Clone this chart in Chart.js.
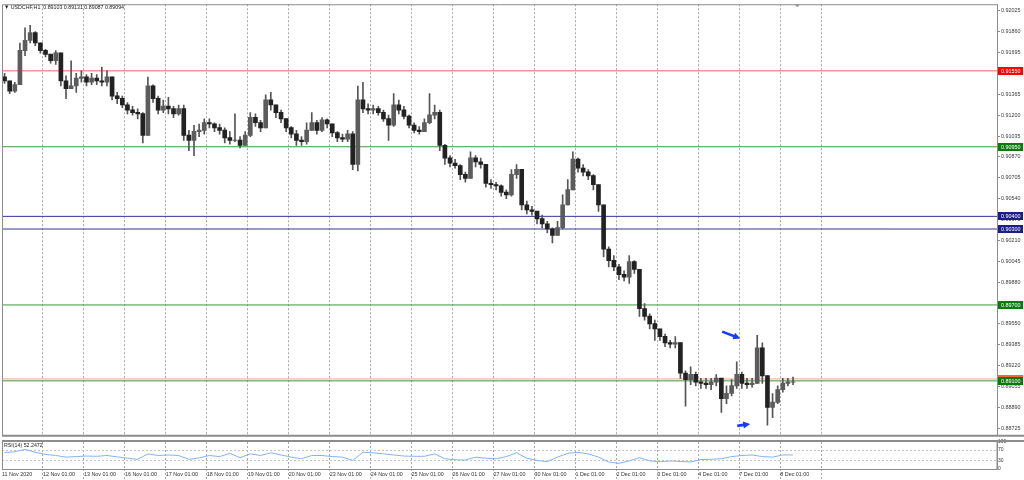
<!DOCTYPE html>
<html>
<head>
<meta charset="utf-8">
<script src="https://cdn.jsdelivr.net/npm/chart.js@4.4.0/dist/chart.umd.min.js"></script>
<style>
  body { margin: 0; background: #fff; }
  #wrap { position: relative; width: 1024px; height: 480px; overflow: hidden; background: #fff; }
  #mainBox { position: absolute; left: 0; top: 0; width: 1024px; height: 440px; }
  #rsiBox { position: absolute; left: 0; top: 437px; width: 1024px; height: 43px; }
  canvas { display: block; }
  .cap { position: absolute; font: 6px "Liberation Sans", Arial, sans-serif; color: #222; white-space: pre; transform: scaleX(0.88); transform-origin: left top; }
</style>
</head>
<body>
<div id="wrap">
  <div id="mainBox"><canvas id="mainChart" width="1024" height="440"></canvas></div>
  <div id="rsiBox"><canvas id="rsiChart" width="1024" height="43"></canvas></div>
  <div class="cap" style="left:4px;top:4px">▼ USDCHF,H1  0.89103 0.89131 0.89087 0.89094</div>
  <div class="cap" style="left:4px;top:442px">RSI(14) 52.2472</div>
</div>
<script>
// USDCHF H1, one candle per 3 hours, 11 Nov 2020 - 8 Dec 2020
var firstOpen = 0.9150;
var closes = [
  0.9147, 0.9139, 0.9144, 0.9171, 0.9179, 0.9185, 0.9177, 0.9171, 0.9168, 0.9163,
  0.9169, 0.9147, 0.9141, 0.9143, 0.9149, 0.9150, 0.9146, 0.9149, 0.9147, 0.9146,
  0.9150, 0.9135, 0.9133, 0.9128, 0.9124, 0.9122, 0.9121, 0.9104, 0.9143, 0.9133,
  0.9124, 0.9127, 0.9125, 0.9121, 0.9125, 0.9104, 0.9100, 0.9107, 0.9108, 0.9114,
  0.9113, 0.9110, 0.9108, 0.9102, 0.9100, 0.9100, 0.9096, 0.9104, 0.9118, 0.9114,
  0.9110, 0.9132, 0.9128, 0.9122, 0.9117, 0.9110, 0.9105, 0.9100, 0.9099, 0.9108,
  0.9114, 0.9108, 0.9116, 0.9113, 0.9106, 0.9102, 0.9101, 0.9105, 0.9081, 0.9132,
  0.9125, 0.9124, 0.9125, 0.9122, 0.9117, 0.9112, 0.9128, 0.9124, 0.9119, 0.9112,
  0.9108, 0.9107, 0.9114, 0.9120, 0.9122, 0.9096, 0.9086, 0.9082, 0.9080, 0.9073,
  0.9070, 0.9086, 0.9083, 0.9081, 0.9066, 0.9065, 0.9064, 0.9059, 0.9057, 0.9073,
  0.9077, 0.9049, 0.9045, 0.9044, 0.9038, 0.9034, 0.9030, 0.9025, 0.9031, 0.9049,
  0.9061, 0.9085, 0.9078, 0.9075, 0.9072, 0.9065, 0.9049, 0.9014, 0.9005, 0.9000,
  0.8994, 0.8992, 0.9004, 0.8998, 0.8967, 0.8961, 0.8955, 0.8951, 0.8945, 0.8940,
  0.8939, 0.8940, 0.8916, 0.8911, 0.8915, 0.8909, 0.8908, 0.8907, 0.8909, 0.8912,
  0.8896, 0.8900, 0.8906, 0.8915, 0.8908, 0.8907, 0.8908, 0.8936, 0.8914, 0.8889,
  0.8893, 0.8903, 0.8908, 0.8909, 0.8909
];
var highs = [
  0.9153, 0.9147, 0.9146, 0.9177, 0.9189, 0.9191, 0.9186, 0.9176, 0.9172, 0.9168,
  0.9171, 0.9169, 0.9151, 0.9163, 0.9153, 0.9155, 0.9152, 0.9153, 0.9152, 0.9158,
  0.9155, 0.9150, 0.9138, 0.9135, 0.9130, 0.9127, 0.9125, 0.9122, 0.9150, 0.9144,
  0.9135, 0.9132, 0.9134, 0.9127, 0.9128, 0.9128, 0.9108, 0.9112, 0.9113, 0.9117,
  0.9117, 0.9114, 0.9113, 0.9110, 0.9107, 0.9121, 0.9103, 0.9107, 0.9122, 0.9121,
  0.9116, 0.9136, 0.9138, 0.9128, 0.9124, 0.9117, 0.9111, 0.9108, 0.9103, 0.9114,
  0.9122, 0.9116, 0.9118, 0.9117, 0.9113, 0.9107, 0.9105, 0.9108, 0.9107, 0.9143,
  0.9146, 0.9129, 0.9128, 0.9127, 0.9124, 0.9120, 0.9137, 0.9132, 0.9127, 0.9120,
  0.9114, 0.9111, 0.9117, 0.9137, 0.9128, 0.9124, 0.9097, 0.9088, 0.9085, 0.9081,
  0.9075, 0.9091, 0.9088, 0.9086, 0.9081, 0.9069, 0.9067, 0.9065, 0.9061, 0.9077,
  0.9081, 0.9077, 0.9052, 0.9048, 0.9044, 0.9041, 0.9036, 0.9031, 0.9036, 0.9057,
  0.9069, 0.9091, 0.9086, 0.9081, 0.9077, 0.9073, 0.9065, 0.9049, 0.9016, 0.9009,
  0.9002, 0.8997, 0.9009, 0.9005, 0.8998, 0.8971, 0.8963, 0.8958, 0.8951, 0.8947,
  0.8942, 0.8945, 0.8940, 0.8918, 0.8921, 0.8917, 0.8912, 0.8912, 0.8912, 0.8915,
  0.8912, 0.8906, 0.8911, 0.8925, 0.8917, 0.8912, 0.8912, 0.8946, 0.8940, 0.8914,
  0.8900, 0.8906, 0.8912, 0.8912, 0.8913
];
var lows = [
  0.9145, 0.9137, 0.9138, 0.9144, 0.9167, 0.9177, 0.9175, 0.9169, 0.9166, 0.9161,
  0.9160, 0.9143, 0.9133, 0.9141, 0.9138, 0.9146, 0.9143, 0.9144, 0.9144, 0.9143,
  0.9143, 0.9132, 0.9129, 0.9126, 0.9121, 0.9120, 0.9117, 0.9098, 0.9104, 0.9130,
  0.9121, 0.9122, 0.9121, 0.9118, 0.9120, 0.9100, 0.9092, 0.9088, 0.9103, 0.9105,
  0.9110, 0.9107, 0.9105, 0.9098, 0.9097, 0.9099, 0.9094, 0.9096, 0.9103, 0.9111,
  0.9107, 0.9110, 0.9124, 0.9118, 0.9114, 0.9107, 0.9102, 0.9096, 0.9096, 0.9097,
  0.9108, 0.9105, 0.9107, 0.9110, 0.9103, 0.9099, 0.9099, 0.9099, 0.9077, 0.9076,
  0.9122, 0.9121, 0.9121, 0.9120, 0.9115, 0.9100, 0.9111, 0.9121, 0.9117, 0.9110,
  0.9106, 0.9105, 0.9107, 0.9113, 0.9117, 0.9092, 0.9081, 0.9079, 0.9078, 0.9069,
  0.9067, 0.9070, 0.9079, 0.9078, 0.9063, 0.9062, 0.9061, 0.9056, 0.9054, 0.9056,
  0.9070, 0.9045, 0.9042, 0.9041, 0.9034, 0.9031, 0.9027, 0.9019, 0.9025, 0.9030,
  0.9053, 0.9061, 0.9075, 0.9072, 0.9069, 0.9061, 0.9044, 0.9008, 0.9000, 0.8997,
  0.8990, 0.8989, 0.8987, 0.8995, 0.8961, 0.8958, 0.8951, 0.8942, 0.8942, 0.8937,
  0.8936, 0.8936, 0.8912, 0.8890, 0.8907, 0.8906, 0.8904, 0.8904, 0.8903, 0.8906,
  0.8885, 0.8892, 0.8898, 0.8904, 0.8904, 0.8904, 0.8905, 0.8908, 0.8908, 0.8875,
  0.8881, 0.8892, 0.8901, 0.8906, 0.8907
];

// RSI(14), one value per 6 hours
var rsiValues = [
  61, 64, 73, 62, 54, 50, 44, 46, 48, 47,
  50, 45, 40, 36, 56, 50, 52, 50, 36, 41,
  50, 46, 58, 42, 56, 50, 60, 52, 44, 38,
  50, 50, 46, 44, 32, 62, 60, 56, 52, 48,
  47, 47, 56, 38, 34, 33, 44, 40, 38, 46,
  60, 40, 32, 27, 44, 58, 62, 56, 44, 26,
  21, 30, 42, 30, 27, 30, 28, 26, 35, 36,
  38, 46, 50, 52, 46, 44, 52, 52.2472
];

var dayLabels = ['11 Nov 2020', '12 Nov 01:00', '13 Nov 01:00', '16 Nov 01:00', '17 Nov 01:00',
  '18 Nov 01:00', '19 Nov 01:00', '20 Nov 01:00', '23 Nov 01:00', '24 Nov 01:00', '25 Nov 01:00',
  '26 Nov 01:00', '27 Nov 01:00', '30 Nov 01:00', '1 Dec 01:00', '2 Dec 01:00', '3 Dec 01:00',
  '4 Dec 01:00', '7 Dec 01:00', '8 Dec 01:00', ''];
var priceTicks = [0.92025, 0.91860, 0.91695, 0.91530, 0.91365, 0.91200, 0.91035, 0.90870,
  0.90705, 0.90540, 0.90375, 0.90210, 0.90045, 0.89880, 0.89715, 0.89550, 0.89385, 0.89220,
  0.89055, 0.88890, 0.88725];
var rsiTicks = [0, 30, 70, 100];

// horizontal levels
var levelPrices = [0.91550, 0.90950, 0.90400, 0.90300, 0.89700, 0.89100];
var levelKinds = ['red', 'green', 'blue', 'blue', 'green', 'green'];
var bidPrice = 0.89115;

// arrow objects: [hour from, price from, hour to, price to]
var arrows = [[422.0, 0.89489, 432.6, 0.89434], [430.8, 0.88744, 438.4, 0.88760]];

var HOURS_MAX = 583;
var FONT = '"Liberation Sans", Arial, sans-serif';
Chart.defaults.font.family = FONT;
Chart.defaults.font.size = 5.4;
Chart.defaults.animation = false;

var lineColors = { red: '#f06060', green: '#3a9a3a', blue: '#34349c' };
var boxColors = { red: '#ff0000', green: '#0a7a0a', blue: '#1c1c8a' };

// candles
var wicks = [], upBodies = [], downBodies = [];
var prev = firstOpen;
for (let i = 0; i < closes.length; i++) {
  let x = 3 * i + 1.5;
  let o = prev, c = closes[i];
  wicks.push({ x: x, y: [Math.min(lows[i], o, c), Math.max(highs[i], o, c)] });
  let body = { x: x, y: [Math.min(o, c), Math.max(o, c) + 0.00002] };
  if (c >= o) upBodies.push(body); else downBodies.push(body);
  prev = c;
}

var levelSets = levelPrices.map(function (v, i) {
  return {
    type: 'line', data: [{ x: 0, y: v }, { x: HOURS_MAX, y: v }],
    borderColor: lineColors[levelKinds[i]], borderWidth: 1, pointRadius: 0, order: 5
  };
});
levelSets.push({
  type: 'line', data: [{ x: 0, y: bidPrice }, { x: HOURS_MAX, y: bidPrice }],
  borderColor: '#f4a48a', borderWidth: 1, pointRadius: 0, order: 6
});

var dayTicks = dayLabels.map(function (l, k) { return 24 * k; });

function drawArrow(ctx, x1, y1, x2, y2) {
  var a = Math.atan2(y2 - y1, x2 - x1);
  var c = Math.cos(a), s = Math.sin(a);
  ctx.strokeStyle = '#1a3cf2';
  ctx.fillStyle = '#1a3cf2';
  ctx.lineWidth = 2.6;
  ctx.beginPath();
  ctx.moveTo(x1, y1);
  ctx.lineTo(x2 - 5 * c, y2 - 5 * s);
  ctx.stroke();
  ctx.beginPath();
  ctx.moveTo(x2, y2);
  ctx.lineTo(x2 - 7 * c + 3.5 * s, y2 - 7 * s - 3.5 * c);
  ctx.lineTo(x2 - 7 * c - 3.5 * s, y2 - 7 * s + 3.5 * c);
  ctx.closePath();
  ctx.fill();
}

var mainOverlay = {
  id: 'mainOverlay',
  afterDraw: function (chart) {
    var ctx = chart.ctx, a = chart.chartArea, xs = chart.scales.x, ys = chart.scales.y;
    ctx.save();
    // frame
    ctx.strokeStyle = '#8c8c8c';
    ctx.lineWidth = 1;
    ctx.beginPath();
    ctx.moveTo(a.left + 0.5, a.bottom);
    ctx.lineTo(a.left + 0.5, a.top + 0.5);
    ctx.lineTo(a.right, a.top + 0.5);
    ctx.stroke();
    ctx.lineWidth = 2;
    ctx.beginPath();
    ctx.moveTo(a.left, a.bottom);
    ctx.lineTo(1024, a.bottom);
    ctx.stroke();
    // chart shift marker
    var sx = xs.getPixelForValue(466);
    ctx.fillStyle = '#9a9a9a';
    ctx.beginPath();
    ctx.moveTo(sx - 3, a.top);
    ctx.lineTo(sx + 3, a.top);
    ctx.lineTo(sx, a.top + 3);
    ctx.closePath();
    ctx.fill();
    // arrows
    arrows.forEach(function (r) {
      drawArrow(ctx, xs.getPixelForValue(r[0]), ys.getPixelForValue(r[1]),
        xs.getPixelForValue(r[2]), ys.getPixelForValue(r[3]));
    });
    // price boxes on the axis
    ctx.font = '5.4px ' + FONT;
    ctx.textBaseline = 'middle';
    function box(v, color) {
      var py = Math.round(ys.getPixelForValue(v));
      ctx.fillStyle = color;
      ctx.fillRect(a.right + 1, py - 4, 25, 8);
      ctx.fillStyle = '#fff';
      ctx.fillText(v.toFixed(5), a.right + 4, py + 0.5);
    }
    box(bidPrice, '#f4673a');
    levelPrices.forEach(function (v, i) { box(v, boxColors[levelKinds[i]]); });
    ctx.restore();
  }
};

new Chart(document.getElementById('mainChart'), {
  type: 'bar',
  data: {
    datasets: [
      { data: wicks, backgroundColor: '#555', barThickness: 1, grouped: false, order: 2 },
      { data: downBodies, backgroundColor: '#222', barThickness: 4, grouped: false, order: 1 },
      { data: upBodies, backgroundColor: '#5c5c5c', barThickness: 4, grouped: false, order: 1 }
    ].concat(levelSets)
  },
  options: {
    responsive: false,
    maintainAspectRatio: false,
    layout: { padding: { left: 2, top: 3, right: 0, bottom: 2 } },
    plugins: { legend: { display: false }, tooltip: { enabled: false } },
    scales: {
      x: {
        type: 'linear', min: 0, max: HOURS_MAX, offset: false,
        afterBuildTicks: function (s) { s.ticks = dayTicks.slice(1).map(function (v) { return { value: v }; }); },
        afterFit: function (s) { s.height = 0; },
        ticks: { display: false },
        grid: { color: '#a8a8a8', drawTicks: false, offset: false },
        border: { display: false, dash: [2, 2] }
      },
      y: {
        position: 'right', min: 0.886661, max: 0.920765,
        afterBuildTicks: function (s) { s.ticks = priceTicks.map(function (v) { return { value: v }; }); },
        afterFit: function (s) { s.width = 27; },
        ticks: { color: '#3a3a3a', padding: 1, autoSkip: false, callback: function (v) { return v.toFixed(5); } },
        grid: { drawOnChartArea: false, drawTicks: true, tickLength: 3, color: '#8c8c8c' },
        border: { color: '#8c8c8c' }
      }
    }
  },
  plugins: [mainOverlay]
});

var rsiOverlay = {
  id: 'rsiOverlay',
  afterDraw: function (chart) {
    var ctx = chart.ctx, a = chart.chartArea;
    ctx.save();
    ctx.strokeStyle = '#8c8c8c';
    ctx.lineWidth = 1;
    ctx.strokeRect(a.left + 0.5, a.top - 0.5, a.right - a.left - 0.5, a.bottom - a.top + 1);
    ctx.lineWidth = 2;
    ctx.beginPath();
    ctx.moveTo(a.left, a.top - 1);
    ctx.lineTo(1024, a.top - 1);
    ctx.stroke();
    ctx.restore();
  }
};

new Chart(document.getElementById('rsiChart'), {
  type: 'line',
  data: {
    datasets: [{
      data: rsiValues.map(function (v, j) { return { x: 6 * j + 1.5, y: v }; }),
      borderColor: '#82b4f4', borderWidth: 1, pointRadius: 0, tension: 0
    }]
  },
  options: {
    responsive: false,
    maintainAspectRatio: false,
    layout: { padding: { left: 2, top: 5, right: 0, bottom: 0 } },
    plugins: { legend: { display: false }, tooltip: { enabled: false } },
    scales: {
      x: {
        type: 'linear', min: 0, max: HOURS_MAX,
        afterBuildTicks: function (s) { s.ticks = dayTicks.map(function (v) { return { value: v }; }); },
        afterFit: function (s) { s.height = 11; },
        ticks: {
          align: 'start', maxRotation: 0, autoSkip: false, padding: -9, color: '#333',
          callback: function (v, i) { return dayLabels[i]; }
        },
        grid: {
          color: function (c) { return c.tick && c.tick.value === 0 ? 'rgba(0,0,0,0)' : '#a8a8a8'; },
          tickColor: function (c) { return c.tick && c.tick.value === 0 ? 'rgba(0,0,0,0)' : '#a8a8a8'; },
          drawTicks: true, tickLength: 11, tickBorderDash: [2, 2]
        },
        border: { display: false, dash: [2, 2] }
      },
      y: {
        position: 'right', min: 0, max: 100,
        afterBuildTicks: function (s) { s.ticks = rsiTicks.map(function (v) { return { value: v }; }); },
        afterFit: function (s) { s.width = 27; },
        ticks: { color: '#3a3a3a', padding: 1, autoSkip: false, font: { size: 5 } },
        grid: {
          color: function (c) { return c.tick && (c.tick.value === 30 || c.tick.value === 70) ? '#c4c4c4' : 'rgba(0,0,0,0)'; },
          drawTicks: false
        },
        border: { color: '#8c8c8c', dash: [2, 2] }
      }
    }
  },
  plugins: [rsiOverlay]
});
</script>
</body>
</html>
